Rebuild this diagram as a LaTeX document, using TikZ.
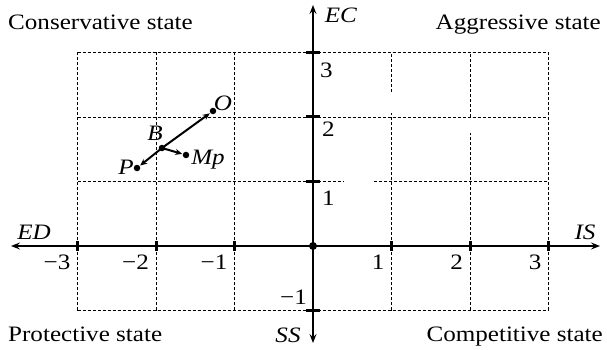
\documentclass[tikz,border=0pt]{standalone}
\usepackage{graphicx}
\usepackage{fontspec}
\setmainfont{Liberation Serif}
\usetikzlibrary{arrows.meta,calc}
\newcommand{\hs}[1]{\scalebox{1.14}[1]{#1}}
\begin{document}
\begin{tikzpicture}[x=78.5pt,y=64.5pt,
  lbl/.style={inner sep=0pt, font=\fontsize{22}{26}\selectfont},
  gridline/.style={dash pattern=on 3pt off 2pt, line width=0.7pt},
  axisline/.style={line width=1.8pt, -{Stealth[length=9pt,width=7pt,inset=3.5pt]}},
  vec/.style={line width=2pt, -{Stealth[length=7pt,width=6pt]}, shorten >=0.5pt, shorten <=-1pt},
  dot/.style={circle, fill, inner sep=0pt, minimum size=6.5pt},
  xtick/.style={line width=3pt},
  ytick/.style={line width=3pt},
]
\useasboundingbox (-3.9873,-1.6124) rectangle (3.7452,3.8140);

% dashed grid
\foreach \y in {-1,2,3} \draw[gridline] (-3,\y) -- (3,\y);
\draw[gridline] (-3,1) -- (0.38,1);
\draw[gridline] (0.78,1) -- (3,1);
\foreach \x in {-3,-2,-1,3} \draw[gridline] (\x,-1) -- (\x,3);
\draw[gridline] (1,-1) -- (1,2.06);
\draw[gridline] (1,2.39) -- (1,3);
\draw[gridline] (2,-1) -- (2,1.75);
\draw[gridline] (2,2) -- (2,3);

% axes
\node[dot, minimum size=8pt] (orig) at (0,0) {};
\coordinate (edtip) at (-3.847,0);
\coordinate (istip) at (3.656,0);
\coordinate (ectip) at (0,3.736);
\coordinate (sstip) at (0,-1.504);
\draw[axisline] (orig.center) -- (istip);
\draw[axisline] (orig.center) -- (edtip);
\draw[axisline] (orig.center) -- (ectip);
\draw[axisline] (orig.center) -- (sstip);

% ticks
\foreach \x in {-3,-2,-1,1,2,3}
  \draw[xtick] ($(\x,0)+(0,-5pt)$) -- ($(\x,0)+(0,5pt)$);
\foreach \y in {-1,1,2,3}
  \draw[ytick] ($(0,\y)+(-7pt,0)$) -- ($(0,\y)+(7pt,0)$);

% tick labels
\foreach \x/\t/\n in {-3/−3/m3,-2/−2/m2,-1/−1/m1,1/1/p1,2/2/p2,3/3/p3}
  \node[lbl, anchor=north east] (xl\n) at ($(\x,0)+(-7pt,-9pt)$) {\hs{\t}};
\node[lbl, anchor=north west] (yl3) at ($(0,3)+(7pt,-10pt)$) {\hs{3}};
\node[lbl, anchor=north west] (yl2) at ($(0,2)+(9pt,-5pt)$) {\hs{2}};
\node[lbl, anchor=north west] (yl1) at ($(0,1)+(9pt,-9pt)$) {\hs{1}};
\node[lbl, anchor=south east] (ylm1) at ($(0,-1)+(-6pt,6pt)$) {\hs{−1}};

% axis labels
\node[lbl] (ec) at (28pt,231pt) {\hs{\textit{EC}}};
\node[lbl] (is) at (272pt,14pt) {\hs{\textit{IS}}};
\node[lbl] (ed) at (-279pt,14pt) {\hs{\textit{ED}}};
\node[lbl] (ss) at (-25pt,-89pt) {\hs{\textit{SS}}};

% corner labels
\node[lbl, anchor=base west] (cons) at (-305pt,216pt) {\hs{Conservative state}};
\node[lbl, anchor=base east] (aggr) at (288pt,216pt) {\hs{Aggressive state}};
\node[lbl, anchor=base west] (prot) at (-305pt,-95pt) {\hs{Protective state}};
\node[lbl, anchor=base east] (comp) at (290pt,-95pt) {\hs{Competitive state}};

% points
\node[dot] (O) at (-1.274,2.093) {};
\node[dot] (B) at (-1.924,1.519) {};
\node[dot] (P) at (-2.242,1.209) {};
\node[dot] (Mp) at (-1.618,1.411) {};
\draw[vec] (B) -- (O);
\draw[vec] (B) -- (P);
\draw[vec] (B) -- (Mp);
\node[lbl] (Ol) at ($(O)+(10pt,8pt)$) {\hs{\textit{O}}};
\node[lbl] (Bl) at ($(B)+(-7pt,15pt)$) {\hs{\textit{B}}};
\node[lbl] (Pl) at ($(P)+(-11pt,1pt)$) {\hs{\textit{P}}};
\node[lbl] (Mpl) at ($(Mp)+(22pt,-5pt)$) {\hs{\textit{Mp}}};
\end{tikzpicture}
\end{document}
